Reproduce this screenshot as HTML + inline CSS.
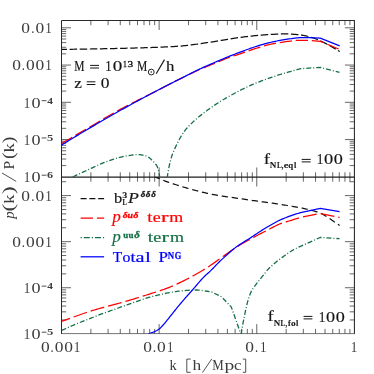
<!DOCTYPE html>
<html><head><meta charset="utf-8"><title>plot</title>
<style>html,body{margin:0;padding:0;background:#fff;}svg{display:block;will-change:transform}text{font-family:"Liberation Serif",serif;}</style>
</head><body>
<svg width="374" height="374" viewBox="0 0 374 374">
<rect width="374" height="374" fill="#fff"/>
<defs><clipPath id="ct"><rect x="61.5" y="20.5" width="292.9" height="156.5"/></clipPath>
<clipPath id="cb"><rect x="61.5" y="177.0" width="292.9" height="156.6"/></clipPath></defs>
<path d="M90.89 20.50V25.20M108.08 20.50V25.20M120.28 20.50V25.20M129.74 20.50V25.20M137.47 20.50V25.20M144.01 20.50V25.20M149.67 20.50V25.20M154.67 20.50V25.20M159.13 20.50V30.00M188.52 20.50V25.20M205.72 20.50V25.20M217.91 20.50V25.20M227.38 20.50V25.20M235.11 20.50V25.20M241.64 20.50V25.20M247.31 20.50V25.20M252.30 20.50V25.20M256.77 20.50V30.00M286.16 20.50V25.20M303.35 20.50V25.20M315.55 20.50V25.20M325.01 20.50V25.20M332.74 20.50V25.20M339.28 20.50V25.20M344.94 20.50V25.20M349.93 20.50V25.20M90.89 177.00V172.30M90.89 177.00V181.70M108.08 177.00V172.30M108.08 177.00V181.70M120.28 177.00V172.30M120.28 177.00V181.70M129.74 177.00V172.30M129.74 177.00V181.70M137.47 177.00V172.30M137.47 177.00V181.70M144.01 177.00V172.30M144.01 177.00V181.70M149.67 177.00V172.30M149.67 177.00V181.70M154.67 177.00V172.30M154.67 177.00V181.70M159.13 177.00V167.50M159.13 177.00V186.50M188.52 177.00V172.30M188.52 177.00V181.70M205.72 177.00V172.30M205.72 177.00V181.70M217.91 177.00V172.30M217.91 177.00V181.70M227.38 177.00V172.30M227.38 177.00V181.70M235.11 177.00V172.30M235.11 177.00V181.70M241.64 177.00V172.30M241.64 177.00V181.70M247.31 177.00V172.30M247.31 177.00V181.70M252.30 177.00V172.30M252.30 177.00V181.70M256.77 177.00V167.50M256.77 177.00V186.50M286.16 177.00V172.30M286.16 177.00V181.70M303.35 177.00V172.30M303.35 177.00V181.70M315.55 177.00V172.30M315.55 177.00V181.70M325.01 177.00V172.30M325.01 177.00V181.70M332.74 177.00V172.30M332.74 177.00V181.70M339.28 177.00V172.30M339.28 177.00V181.70M344.94 177.00V172.30M344.94 177.00V181.70M349.93 177.00V172.30M349.93 177.00V181.70M90.89 333.60V328.90M108.08 333.60V328.90M120.28 333.60V328.90M129.74 333.60V328.90M137.47 333.60V328.90M144.01 333.60V328.90M149.67 333.60V328.90M154.67 333.60V328.90M159.13 333.60V324.10M188.52 333.60V328.90M205.72 333.60V328.90M217.91 333.60V328.90M227.38 333.60V328.90M235.11 333.60V328.90M241.64 333.60V328.90M247.31 333.60V328.90M252.30 333.60V328.90M256.77 333.60V324.10M286.16 333.60V328.90M303.35 333.60V328.90M315.55 333.60V328.90M325.01 333.60V328.90M332.74 333.60V328.90M339.28 333.60V328.90M344.94 333.60V328.90M349.93 333.60V328.90M61.50 165.59H66.20M354.40 165.59H349.70M61.50 159.03H66.20M354.40 159.03H349.70M61.50 154.37H66.20M354.40 154.37H349.70M61.50 150.76H66.20M354.40 150.76H349.70M61.50 147.81H66.20M354.40 147.81H349.70M61.50 145.32H66.20M354.40 145.32H349.70M61.50 143.16H66.20M354.40 143.16H349.70M61.50 141.25H66.20M354.40 141.25H349.70M61.50 139.55H71.00M354.40 139.55H344.90M61.50 128.34H66.20M354.40 128.34H349.70M61.50 121.78H66.20M354.40 121.78H349.70M61.50 117.12H66.20M354.40 117.12H349.70M61.50 113.51H66.20M354.40 113.51H349.70M61.50 110.56H66.20M354.40 110.56H349.70M61.50 108.07H66.20M354.40 108.07H349.70M61.50 105.91H66.20M354.40 105.91H349.70M61.50 104.00H66.20M354.40 104.00H349.70M61.50 102.30H71.00M354.40 102.30H344.90M61.50 91.09H66.20M354.40 91.09H349.70M61.50 84.53H66.20M354.40 84.53H349.70M61.50 79.87H66.20M354.40 79.87H349.70M61.50 76.26H66.20M354.40 76.26H349.70M61.50 73.31H66.20M354.40 73.31H349.70M61.50 70.82H66.20M354.40 70.82H349.70M61.50 68.66H66.20M354.40 68.66H349.70M61.50 66.75H66.20M354.40 66.75H349.70M61.50 65.05H71.00M354.40 65.05H344.90M61.50 53.84H66.20M354.40 53.84H349.70M61.50 47.28H66.20M354.40 47.28H349.70M61.50 42.62H66.20M354.40 42.62H349.70M61.50 39.01H66.20M354.40 39.01H349.70M61.50 36.06H66.20M354.40 36.06H349.70M61.50 33.57H66.20M354.40 33.57H349.70M61.50 31.41H66.20M354.40 31.41H349.70M61.50 29.50H66.20M354.40 29.50H349.70M61.50 27.80H71.00M354.40 27.80H344.90M61.50 319.94H66.20M354.40 319.94H349.70M61.50 311.83H66.20M354.40 311.83H349.70M61.50 306.07H66.20M354.40 306.07H349.70M61.50 301.61H66.20M354.40 301.61H349.70M61.50 297.96H66.20M354.40 297.96H349.70M61.50 294.88H66.20M354.40 294.88H349.70M61.50 292.20H66.20M354.40 292.20H349.70M61.50 289.85H66.20M354.40 289.85H349.70M61.50 287.74H71.00M354.40 287.74H344.90M61.50 273.87H66.20M354.40 273.87H349.70M61.50 265.76H66.20M354.40 265.76H349.70M61.50 260.00H66.20M354.40 260.00H349.70M61.50 255.54H66.20M354.40 255.54H349.70M61.50 251.89H66.20M354.40 251.89H349.70M61.50 248.81H66.20M354.40 248.81H349.70M61.50 246.13H66.20M354.40 246.13H349.70M61.50 243.78H66.20M354.40 243.78H349.70M61.50 241.67H71.00M354.40 241.67H344.90M61.50 227.80H66.20M354.40 227.80H349.70M61.50 219.69H66.20M354.40 219.69H349.70M61.50 213.93H66.20M354.40 213.93H349.70M61.50 209.47H66.20M354.40 209.47H349.70M61.50 205.82H66.20M354.40 205.82H349.70M61.50 202.74H66.20M354.40 202.74H349.70M61.50 200.06H66.20M354.40 200.06H349.70M61.50 197.71H66.20M354.40 197.71H349.70M61.50 195.60H71.00M354.40 195.60H344.90M61.50 181.73H66.20M354.40 181.73H349.70" stroke="#333" stroke-width="0.75" fill="none"/>
<path d="M61.50 333.90V20.50H354.90" fill="none" stroke="#2a2a2a" stroke-width="1"/>
<path d="M354.40 20.50V333.90" fill="none" stroke="#1a1a1a" stroke-width="1.0"/>
<path d="M61.50 333.60H354.40" fill="none" stroke="#2a2a2a" stroke-width="0.65"/>
<path d="M61.50 177.15H354.40" stroke="#1c1c1c" stroke-width="1.25"/>
<g clip-path="url(#ct)" fill="none" stroke-width="1.25">
<path d="M61.50 49.40 L63.01 49.38 L64.53 49.37 L66.04 49.35 L67.56 49.33 L69.07 49.31 L70.59 49.29 L72.10 49.27 L73.62 49.25 L75.13 49.23 L76.65 49.21 L78.16 49.19 L79.68 49.16 L81.19 49.14 L82.71 49.12 L84.22 49.09 L85.74 49.07 L87.25 49.05 L88.77 49.02 L90.28 49.00 L91.80 48.97 L93.31 48.94 L94.82 48.92 L96.34 48.89 L97.85 48.86 L99.37 48.83 L100.88 48.80 L102.40 48.77 L103.91 48.74 L105.43 48.71 L106.94 48.68 L108.46 48.64 L109.97 48.61 L111.49 48.58 L113.00 48.54 L114.52 48.51 L116.03 48.47 L117.54 48.44 L119.06 48.40 L120.57 48.37 L122.09 48.33 L123.60 48.29 L125.12 48.26 L126.63 48.22 L128.15 48.18 L129.66 48.14 L131.17 48.10 L132.69 48.06 L134.20 48.02 L135.72 47.98 L137.23 47.94 L138.75 47.90 L140.26 47.86 L141.78 47.81 L143.29 47.77 L144.80 47.72 L146.32 47.68 L147.83 47.63 L149.35 47.58 L150.86 47.53 L152.37 47.47 L153.89 47.42 L155.40 47.36 L156.92 47.30 L158.43 47.24 L159.94 47.18 L161.46 47.12 L162.97 47.05 L164.49 46.99 L166.00 46.92 L167.51 46.85 L169.03 46.77 L170.54 46.69 L172.05 46.61 L173.57 46.52 L175.08 46.43 L176.59 46.34 L178.10 46.23 L179.61 46.13 L181.12 46.01 L182.63 45.88 L184.13 45.73 L185.64 45.57 L187.15 45.39 L188.65 45.21 L190.16 45.02 L191.66 44.83 L193.16 44.64 L194.66 44.44 L196.17 44.25 L197.67 44.05 L199.17 43.84 L200.67 43.62 L202.17 43.40 L203.67 43.18 L205.16 42.95 L206.66 42.72 L208.16 42.49 L209.65 42.25 L211.15 42.02 L212.65 41.78 L214.14 41.53 L215.63 41.28 L217.13 41.02 L218.62 40.77 L220.12 40.51 L221.61 40.26 L223.10 40.01 L224.60 39.76 L226.09 39.52 L227.59 39.28 L229.09 39.04 L230.58 38.80 L232.08 38.56 L233.58 38.33 L235.07 38.10 L236.57 37.87 L238.07 37.66 L239.57 37.46 L241.07 37.26 L242.58 37.07 L244.08 36.89 L245.58 36.70 L247.09 36.53 L248.59 36.36 L250.10 36.19 L251.61 36.03 L253.11 35.88 L254.62 35.74 L256.13 35.59 L257.64 35.45 L259.15 35.32 L260.66 35.18 L262.17 35.05 L263.68 34.93 L265.19 34.81 L266.70 34.70 L268.21 34.60 L269.72 34.52 L271.23 34.43 L272.75 34.35 L274.26 34.27 L275.78 34.19 L277.29 34.11 L278.80 34.04 L280.32 33.99 L281.83 33.94 L283.35 33.91 L284.86 33.90 L286.37 33.91 L287.89 33.95 L289.40 34.00 L290.92 34.08 L292.44 34.17 L293.95 34.28 L295.46 34.41 L296.97 34.54 L298.48 34.69 L299.98 34.84 L301.48 35.01 L302.98 35.26 L304.47 35.56 L305.95 35.89 L307.41 36.25 L308.87 36.65 L310.33 37.09 L311.77 37.55 L313.21 38.03 L314.64 38.52 L316.07 39.03 L317.49 39.57 L318.90 40.12 L320.30 40.70 L330.00 45.60 L339.70 51.50" stroke="#111" stroke-dasharray="7.5 2.6" stroke-dashoffset="2"/>
<path d="M72.80 176.90 L74.19 176.24 L75.59 175.58 L76.98 174.92 L78.37 174.26 L79.77 173.61 L81.17 172.96 L82.57 172.31 L83.97 171.66 L85.37 171.01 L86.77 170.37 L88.17 169.73 L89.57 169.09 L90.98 168.46 L92.38 167.81 L93.78 167.15 L95.18 166.50 L96.58 165.84 L97.98 165.19 L99.38 164.55 L100.79 163.92 L102.20 163.30 L103.62 162.71 L105.05 162.14 L106.49 161.59 L107.93 161.07 L109.38 160.55 L110.84 160.05 L112.30 159.55 L113.78 159.08 L115.25 158.62 L116.73 158.18 L118.22 157.76 L119.71 157.38 L121.21 157.02 L122.71 156.69 L124.22 156.37 L125.73 156.08 L127.26 155.81 L128.78 155.57 L130.30 155.36 L131.84 155.15 L133.37 154.94 L134.91 154.76 L136.44 154.64 L137.97 154.60 L139.53 154.68 L141.10 154.87 L142.66 155.14 L144.18 155.48 L145.64 155.87 L147.01 156.32 L148.32 157.03 L149.58 157.96 L150.79 159.04 L151.94 160.15 L153.04 161.24 L154.15 162.34 L155.23 163.51 L156.20 164.74 L156.97 166.03 L157.55 167.39 L158.05 168.83 L158.48 170.34 L158.84 171.88 L159.14 173.41 L159.37 174.93 L159.57 176.46 L159.70 178.00" stroke="#156f46" stroke-width="1.3" stroke-dasharray="5 2 1 2"/>
<path d="M167.20 178.00 L167.40 176.49 L167.62 174.98 L167.86 173.47 L168.11 171.97 L168.37 170.47 L168.65 168.97 L168.94 167.48 L169.24 165.99 L169.56 164.50 L169.90 163.01 L170.25 161.53 L170.63 160.05 L171.03 158.58 L171.45 157.12 L171.91 155.67 L172.41 154.24 L172.97 152.83 L173.57 151.42 L174.19 150.03 L174.82 148.63 L175.44 147.24 L176.06 145.86 L176.71 144.47 L177.37 143.10 L178.06 141.74 L178.77 140.40 L179.50 139.06 L180.26 137.73 L181.03 136.41 L181.83 135.10 L182.65 133.81 L183.49 132.54 L184.37 131.31 L185.28 130.11 L186.23 128.94 L187.23 127.79 L188.26 126.67 L189.32 125.56 L190.40 124.47 L191.50 123.40 L192.60 122.35 L193.71 121.31 L194.83 120.29 L195.96 119.28 L197.12 118.28 L198.28 117.30 L199.46 116.32 L200.65 115.37 L201.85 114.42 L203.05 113.48 L204.26 112.56 L205.47 111.64 L206.69 110.74 L207.92 109.84 L209.16 108.94 L210.40 108.06 L211.65 107.19 L212.90 106.32 L214.16 105.46 L215.43 104.61 L216.70 103.77 L217.98 102.94 L219.27 102.12 L220.55 101.31 L221.84 100.51 L223.14 99.72 L224.45 98.94 L225.76 98.17 L227.08 97.41 L228.41 96.66 L229.74 95.92 L231.07 95.19 L232.41 94.46 L233.76 93.73 L235.10 93.02 L236.45 92.31 L237.80 91.60 L239.15 90.90 L240.50 90.20 L241.86 89.51 L243.22 88.82 L244.58 88.14 L245.95 87.47 L247.33 86.82 L248.71 86.18 L250.10 85.56 L251.49 84.95 L252.89 84.35 L254.29 83.77 L255.70 83.19 L257.12 82.63 L258.54 82.07 L259.96 81.52 L261.38 80.98 L262.81 80.44 L264.24 79.91 L265.67 79.39 L267.10 78.87 L268.53 78.36 L269.97 77.86 L271.41 77.36 L272.85 76.87 L274.29 76.38 L275.74 75.90 L277.19 75.43 L278.64 74.96 L280.09 74.50 L281.54 74.05 L283.00 73.61 L284.46 73.18 L285.92 72.76 L287.39 72.34 L288.85 71.92 L290.32 71.51 L291.78 71.10 L293.25 70.69 L294.72 70.28 L296.19 69.88 L297.66 69.48 L299.13 69.09 L300.60 68.70 L320.30 67.30 L339.50 72.30" stroke="#156f46" stroke-width="1.3" stroke-dasharray="5 2 1 2"/>
<path d="M61.50 143.50 L62.80 142.74 L64.11 141.98 L65.41 141.22 L66.72 140.46 L68.02 139.69 L69.33 138.93 L70.63 138.17 L71.94 137.41 L73.24 136.65 L74.55 135.89 L75.85 135.13 L77.16 134.37 L78.46 133.61 L79.77 132.85 L81.07 132.09 L82.38 131.33 L83.68 130.57 L84.99 129.81 L86.29 129.05 L87.60 128.29 L88.91 127.54 L90.21 126.78 L91.52 126.02 L92.82 125.25 L94.12 124.49 L95.42 123.72 L96.73 122.95 L98.03 122.18 L99.33 121.41 L100.63 120.65 L101.93 119.88 L103.23 119.11 L104.53 118.34 L105.83 117.57 L107.13 116.81 L108.44 116.05 L109.74 115.29 L111.05 114.53 L112.36 113.78 L113.67 113.03 L114.99 112.29 L116.30 111.55 L117.62 110.81 L118.94 110.08 L120.26 109.36 L121.59 108.64 L122.92 107.93 L124.26 107.22 L125.60 106.52 L126.94 105.82 L128.28 105.13 L129.62 104.44 L130.97 103.75 L132.32 103.07 L133.66 102.38 L135.01 101.70 L136.35 101.01 L137.70 100.33 L139.05 99.66 L140.40 98.98 L141.76 98.31 L143.11 97.64 L144.46 96.97 L145.81 96.29 L147.17 95.62 L148.52 94.95 L149.87 94.27 L151.21 93.59 L152.56 92.90 L153.91 92.22 L155.25 91.53 L156.60 90.84 L157.94 90.15 L159.28 89.45 L160.62 88.76 L161.96 88.07 L163.31 87.37 L164.65 86.68 L165.99 85.99 L167.33 85.30 L168.68 84.60 L170.02 83.92 L171.37 83.23 L172.71 82.54 L174.06 81.86 L175.41 81.18 L176.76 80.51 L178.11 79.83 L179.46 79.16 L180.82 78.50 L182.17 77.83 L183.53 77.17 L184.89 76.50 L186.25 75.84 L187.60 75.18 L188.96 74.52 L190.33 73.87 L191.69 73.22 L193.06 72.57 L194.42 71.93 L195.79 71.30 L197.17 70.67 L198.54 70.05 L199.92 69.43 L201.31 68.83 L202.69 68.24 L204.08 67.65 L205.48 67.07 L206.88 66.50 L208.28 65.93 L209.68 65.36 L211.08 64.79 L212.48 64.23 L213.88 63.66 L215.28 63.09 L216.67 62.51 L218.06 61.92 L219.46 61.33 L220.85 60.74 L222.24 60.15 L223.64 59.57 L225.03 59.00 L226.44 58.44 L227.84 57.90 L229.26 57.37 L230.68 56.86 L232.11 56.38 L233.54 55.92 L234.99 55.47 L236.43 55.03 L237.88 54.58 L239.32 54.12 L240.75 53.65 L242.18 53.16 L243.60 52.66 L245.03 52.15 L246.45 51.64 L247.87 51.13 L249.30 50.62 L250.72 50.12 L252.15 49.63 L253.58 49.16 L255.02 48.69 L256.46 48.24 L257.90 47.79 L259.34 47.33 L260.79 46.88 L262.24 46.44 L263.69 46.02 L265.14 45.61 L266.60 45.21 L268.06 44.85 L269.53 44.50 L271.00 44.19 L272.48 43.88 L273.96 43.58 L275.44 43.30 L276.93 43.03 L278.42 42.77 L279.92 42.52 L281.41 42.29 L282.91 42.08 L284.40 41.88 L285.90 41.69 L287.40 41.49 L288.90 41.29 L290.40 41.10 L291.90 40.91 L293.41 40.74 L294.91 40.59 L296.42 40.46 L297.92 40.37 L299.43 40.31 L300.94 40.30 L302.45 40.30 L303.95 40.30 L305.46 40.31 L306.98 40.32 L308.49 40.33 L310.00 40.35 L320.30 41.30 L339.70 49.40" stroke="#ff0000" stroke-dasharray="12.3 3.8" stroke-dashoffset="0"/>
<path d="M61.50 145.10 L62.78 144.30 L64.07 143.51 L65.36 142.71 L66.64 141.92 L67.93 141.13 L69.22 140.34 L70.51 139.55 L71.80 138.76 L73.09 137.98 L74.38 137.19 L75.68 136.41 L76.97 135.63 L78.26 134.85 L79.56 134.07 L80.85 133.30 L82.15 132.52 L83.45 131.75 L84.75 130.97 L86.05 130.20 L87.35 129.43 L88.65 128.66 L89.95 127.90 L91.25 127.13 L92.55 126.36 L93.86 125.60 L95.16 124.84 L96.47 124.08 L97.77 123.32 L99.08 122.56 L100.38 121.80 L101.69 121.04 L103.00 120.29 L104.31 119.53 L105.62 118.78 L106.93 118.03 L108.24 117.28 L109.55 116.53 L110.86 115.78 L112.17 115.03 L113.49 114.29 L114.80 113.54 L116.11 112.80 L117.43 112.05 L118.74 111.31 L120.06 110.57 L121.37 109.83 L122.69 109.09 L124.01 108.35 L125.33 107.62 L126.65 106.89 L127.97 106.16 L129.30 105.43 L130.62 104.70 L131.95 103.98 L133.27 103.26 L134.60 102.53 L135.93 101.81 L137.26 101.10 L138.59 100.38 L139.92 99.66 L141.25 98.95 L142.59 98.24 L143.92 97.53 L145.25 96.82 L146.59 96.11 L147.92 95.40 L149.26 94.69 L150.59 93.99 L151.93 93.28 L153.27 92.58 L154.61 91.88 L155.94 91.19 L157.29 90.49 L158.63 89.79 L159.97 89.10 L161.31 88.41 L162.66 87.72 L164.00 87.03 L165.35 86.34 L166.69 85.65 L168.04 84.97 L169.38 84.28 L170.73 83.60 L172.08 82.91 L173.42 82.23 L174.77 81.55 L176.12 80.86 L177.47 80.18 L178.82 79.50 L180.16 78.82 L181.51 78.13 L182.86 77.45 L184.20 76.76 L185.55 76.07 L186.89 75.38 L188.24 74.70 L189.59 74.01 L190.93 73.33 L192.28 72.65 L193.64 71.97 L194.99 71.31 L196.35 70.64 L197.71 69.99 L199.07 69.34 L200.44 68.70 L201.81 68.06 L203.18 67.44 L204.56 66.82 L205.94 66.21 L207.33 65.61 L208.71 65.00 L210.10 64.40 L211.49 63.81 L212.88 63.21 L214.27 62.62 L215.65 62.02 L217.04 61.42 L218.43 60.83 L219.82 60.23 L221.21 59.64 L222.60 59.05 L223.99 58.46 L225.39 57.88 L226.78 57.30 L228.18 56.73 L229.58 56.17 L230.99 55.61 L232.39 55.06 L233.80 54.52 L235.22 53.98 L236.63 53.45 L238.05 52.92 L239.46 52.40 L240.88 51.87 L242.29 51.34 L243.71 50.81 L245.13 50.28 L246.54 49.76 L247.96 49.23 L249.38 48.72 L250.81 48.21 L252.23 47.72 L253.66 47.24 L255.10 46.77 L256.54 46.31 L257.98 45.86 L259.42 45.41 L260.87 44.97 L262.32 44.54 L263.77 44.12 L265.23 43.71 L266.69 43.32 L268.15 42.94 L269.62 42.59 L271.09 42.25 L272.56 41.92 L274.03 41.60 L275.51 41.29 L277.00 41.00 L278.48 40.71 L279.97 40.43 L281.46 40.17 L282.95 39.92 L284.44 39.68 L285.93 39.46 L287.43 39.22 L288.92 38.98 L290.42 38.75 L291.92 38.52 L293.42 38.31 L294.92 38.12 L296.42 37.95 L297.93 37.82 L299.43 37.74 L300.94 37.69 L302.44 37.67 L303.95 37.65 L305.46 37.63 L306.97 37.61 L308.49 37.60 L310.00 37.60 L320.30 38.20 L339.70 45.90" stroke="#0000ff"/>
</g>
<g clip-path="url(#cb)" fill="none" stroke-width="1.25">
<path d="M154.00 176.30 L155.38 176.94 L156.78 177.57 L158.17 178.18 L159.57 178.79 L160.98 179.39 L162.38 179.97 L163.80 180.54 L165.22 181.08 L166.65 181.61 L168.09 182.12 L169.53 182.62 L170.97 183.11 L172.42 183.59 L173.88 184.06 L175.33 184.52 L176.78 184.98 L178.24 185.44 L179.69 185.89 L181.15 186.34 L182.61 186.79 L184.07 187.23 L185.53 187.66 L187.00 188.09 L188.46 188.52 L189.93 188.93 L191.40 189.34 L192.87 189.74 L194.35 190.13 L195.82 190.51 L197.30 190.89 L198.78 191.27 L200.26 191.64 L201.74 192.01 L203.22 192.37 L204.70 192.73 L206.19 193.08 L207.68 193.42 L209.17 193.76 L210.66 194.08 L212.15 194.39 L213.65 194.69 L215.14 194.97 L216.64 195.24 L218.14 195.50 L219.64 195.74 L221.15 195.97 L222.66 196.19 L224.17 196.41 L225.68 196.62 L227.19 196.82 L228.71 197.03 L230.22 197.23 L231.73 197.44 L233.24 197.65 L234.75 197.86 L236.26 198.08 L237.77 198.31 L239.28 198.53 L240.79 198.75 L242.30 198.97 L243.81 199.20 L245.31 199.42 L246.82 199.64 L248.33 199.86 L249.84 200.08 L251.35 200.29 L252.86 200.51 L254.37 200.72 L255.88 200.93 L257.39 201.14 L258.90 201.35 L260.41 201.56 L261.92 201.77 L263.43 201.98 L264.94 202.19 L266.45 202.40 L267.97 202.61 L269.48 202.82 L270.99 203.02 L272.50 203.23 L274.01 203.44 L275.52 203.65 L277.03 203.87 L278.54 204.08 L280.05 204.31 L281.56 204.54 L283.06 204.77 L284.57 205.01 L286.07 205.25 L287.58 205.50 L289.08 205.75 L290.59 206.00 L292.09 206.25 L293.60 206.51 L295.10 206.77 L296.60 207.04 L298.10 207.31 L299.60 207.60 L301.09 207.90 L302.58 208.22 L304.07 208.56 L305.56 208.90 L307.04 209.26 L308.52 209.63 L310.00 210.00 L311.48 210.38 L312.95 210.76 L314.43 211.15 L315.90 211.55 L317.37 211.96 L318.83 212.38 L320.30 212.80 L330.00 218.80 L339.60 225.50" stroke="#111" stroke-dasharray="6.3 3.8"/>
<path d="M61.50 330.50 L62.89 329.86 L64.28 329.22 L65.67 328.58 L67.06 327.96 L68.46 327.33 L69.86 326.71 L71.26 326.10 L72.66 325.50 L74.07 324.90 L75.47 324.30 L76.88 323.71 L78.30 323.13 L79.71 322.56 L81.13 321.99 L82.55 321.43 L83.98 320.86 L85.40 320.30 L86.82 319.75 L88.25 319.19 L89.67 318.63 L91.09 318.07 L92.51 317.51 L93.94 316.95 L95.36 316.39 L96.78 315.83 L98.21 315.28 L99.63 314.73 L101.06 314.18 L102.49 313.64 L103.92 313.10 L105.35 312.57 L106.79 312.05 L108.23 311.53 L109.67 311.02 L111.11 310.51 L112.55 310.01 L114.00 309.50 L115.44 309.00 L116.89 308.50 L118.33 307.99 L119.77 307.48 L121.21 306.97 L122.65 306.45 L124.08 305.92 L125.52 305.40 L126.95 304.87 L128.39 304.35 L129.83 303.83 L131.27 303.31 L132.71 302.80 L134.15 302.29 L135.59 301.80 L137.04 301.30 L138.49 300.80 L139.93 300.30 L141.38 299.80 L142.83 299.31 L144.28 298.84 L145.74 298.37 L147.20 297.92 L148.66 297.48 L150.13 297.06 L151.60 296.66 L153.08 296.27 L154.56 295.88 L156.04 295.51 L157.53 295.14 L159.02 294.79 L160.51 294.45 L162.00 294.12 L163.50 293.80 L165.00 293.50 L166.49 293.20 L168.00 292.91 L169.50 292.61 L171.00 292.33 L172.51 292.05 L174.02 291.79 L175.53 291.55 L177.04 291.33 L178.56 291.15 L180.08 290.99 L181.59 290.85 L183.12 290.72 L184.64 290.58 L186.17 290.46 L187.70 290.34 L189.22 290.24 L190.75 290.15 L192.28 290.08 L193.81 290.03 L195.33 290.00 L196.86 290.01 L198.38 290.10 L199.90 290.24 L201.43 290.42 L202.95 290.62 L204.46 290.83 L205.98 291.03 L207.49 291.26 L208.99 291.52 L210.50 291.80 L212.00 292.10 L221.50 296.80 L231.30 307.00 L241.00 334.50" stroke="#156f46" stroke-width="1.3" stroke-dasharray="5 2 1 2"/>
<path d="M241.00 334.50 L241.25 332.98 L241.51 331.47 L241.78 329.95 L242.05 328.44 L242.32 326.93 L242.60 325.42 L242.88 323.91 L243.17 322.40 L243.47 320.89 L243.76 319.38 L244.06 317.87 L244.37 316.37 L244.67 314.86 L244.97 313.35 L245.28 311.84 L245.59 310.33 L245.91 308.83 L246.25 307.33 L246.60 305.83 L246.96 304.34 L247.35 302.86 L247.76 301.38 L248.19 299.90 L248.64 298.41 L249.12 296.94 L249.63 295.47 L250.18 294.03 L250.76 292.62 L251.38 291.24 L252.08 289.91 L252.88 288.62 L253.76 287.35 L254.69 286.11 L255.65 284.88 L256.60 283.66 L257.53 282.43 L258.47 281.22 L259.43 280.01 L260.40 278.82 L261.37 277.63 L262.34 276.44 L263.31 275.24 L264.26 274.03 L265.19 272.80 L266.12 271.58 L267.09 270.39 L268.11 269.26 L269.19 268.16 L270.30 267.10 L271.44 266.06 L272.60 265.04 L273.77 264.04 L274.94 263.05 L276.12 262.07 L277.32 261.11 L278.53 260.16 L279.75 259.22 L280.98 258.29 L282.21 257.38 L283.46 256.47 L284.70 255.57 L285.95 254.68 L287.20 253.78 L288.46 252.90 L289.74 252.04 L291.04 251.22 L292.35 250.44 L293.69 249.69 L295.04 248.96 L296.40 248.25 L297.78 247.57 L299.18 246.92 L300.60 246.30 L320.30 237.40 L339.60 238.70" stroke="#156f46" stroke-width="1.3" stroke-dasharray="5 2 1 2"/>
<path d="M61.50 321.40 L62.92 320.88 L64.33 320.35 L65.75 319.84 L67.17 319.32 L68.58 318.80 L70.00 318.29 L71.42 317.78 L72.84 317.27 L74.26 316.76 L75.69 316.26 L77.11 315.75 L78.53 315.24 L79.95 314.73 L81.37 314.22 L82.79 313.72 L84.22 313.22 L85.65 312.73 L87.07 312.25 L88.51 311.78 L89.94 311.32 L91.38 310.87 L92.83 310.43 L94.27 310.01 L95.72 309.59 L97.17 309.17 L98.63 308.76 L100.08 308.36 L101.54 307.96 L102.99 307.55 L104.45 307.15 L105.90 306.75 L107.36 306.36 L108.81 305.97 L110.27 305.59 L111.73 305.21 L113.19 304.82 L114.65 304.44 L116.11 304.06 L117.57 303.67 L119.03 303.27 L120.48 302.87 L121.93 302.46 L123.38 302.04 L124.83 301.62 L126.28 301.20 L127.73 300.78 L129.18 300.35 L130.62 299.92 L132.07 299.48 L133.51 299.05 L134.96 298.61 L136.40 298.17 L137.84 297.73 L139.28 297.29 L140.72 296.84 L142.17 296.39 L143.60 295.93 L145.04 295.48 L146.48 295.02 L147.92 294.56 L149.36 294.11 L150.79 293.65 L152.23 293.19 L153.68 292.74 L155.12 292.29 L156.56 291.84 L158.00 291.38 L159.44 290.92 L160.87 290.45 L162.30 289.96 L163.72 289.47 L165.13 288.95 L166.54 288.42 L167.95 287.87 L169.35 287.31 L170.74 286.73 L172.13 286.14 L173.52 285.54 L174.90 284.93 L176.28 284.31 L177.66 283.69 L179.03 283.06 L180.39 282.42 L181.75 281.77 L183.10 281.11 L184.46 280.43 L185.80 279.75 L187.14 279.06 L188.48 278.36 L189.82 277.65 L191.15 276.93 L192.47 276.20 L193.79 275.47 L195.11 274.74 L196.42 274.00 L197.73 273.25 L199.03 272.49 L200.34 271.73 L201.63 270.95 L202.93 270.17 L204.21 269.38 L205.50 268.59 L206.77 267.78 L208.05 266.97 L209.31 266.15 L210.57 265.32 L211.82 264.48 L213.06 263.62 L214.29 262.75 L215.51 261.87 L216.73 260.98 L217.95 260.08 L219.17 259.19 L220.38 258.30 L221.60 257.41 L222.83 256.53 L224.06 255.65 L225.30 254.79 L226.54 253.93 L227.78 253.08 L229.03 252.22 L230.27 251.36 L231.52 250.51 L232.77 249.66 L234.02 248.82 L235.28 247.99 L236.55 247.17 L237.82 246.36 L239.09 245.56 L240.38 244.77 L241.67 244.00 L242.98 243.24 L244.29 242.49 L245.61 241.76 L246.93 241.03 L248.25 240.30 L249.58 239.58 L250.90 238.85 L252.23 238.13 L253.55 237.41 L254.88 236.69 L256.21 235.98 L257.54 235.27 L258.87 234.56 L260.21 233.86 L261.55 233.16 L262.88 232.46 L264.22 231.77 L265.57 231.08 L266.91 230.40 L268.26 229.71 L269.60 229.01 L270.94 228.30 L272.28 227.59 L273.62 226.89 L274.97 226.21 L276.33 225.54 L277.69 224.89 L279.06 224.28 L280.45 223.70 L281.85 223.17 L283.27 222.69 L284.71 222.24 L286.16 221.82 L287.62 221.40 L289.07 220.98 L290.52 220.54 L291.96 220.10 L293.40 219.65 L294.84 219.20 L296.28 218.75 L297.72 218.30 L299.16 217.85 L300.60 217.40 L320.30 213.50 L339.60 217.50" stroke="#ff0000" stroke-dasharray="14 4" stroke-dashoffset="5"/>
<path d="M148.10 333.60 L149.68 333.30 L151.20 332.90 L152.68 332.40 L154.09 331.83 L155.45 331.20 L156.76 330.51 L158.02 329.79 L159.22 329.01 L160.35 328.03 L161.42 326.93 L162.46 325.77 L163.48 324.63 L164.48 323.50 L165.45 322.35 L166.40 321.17 L167.34 319.98 L168.27 318.79 L169.20 317.59 L170.15 316.41 L171.10 315.24 L172.04 314.06 L172.99 312.87 L173.93 311.69 L174.87 310.51 L175.81 309.33 L176.76 308.15 L177.71 306.97 L178.67 305.80 L179.63 304.64 L180.61 303.48 L181.58 302.33 L182.57 301.18 L183.56 300.04 L184.55 298.90 L185.55 297.76 L186.55 296.63 L187.55 295.50 L188.55 294.37 L189.56 293.23 L190.56 292.10 L191.57 290.97 L192.57 289.84 L193.57 288.71 L194.56 287.56 L195.55 286.42 L196.53 285.26 L197.51 284.11 L198.49 282.95 L199.48 281.80 L200.47 280.66 L201.47 279.53 L202.49 278.41 L203.52 277.31 L204.57 276.23 L205.65 275.18 L206.77 274.16 L207.91 273.17 L209.05 272.17 L210.16 271.15 L211.25 270.10 L212.32 269.03 L213.38 267.95 L214.43 266.86 L215.48 265.77 L216.53 264.68 L217.58 263.59 L218.64 262.52 L219.71 261.45 L220.80 260.40 L221.90 259.37 L223.02 258.35 L224.14 257.34 L225.27 256.33 L226.40 255.33 L227.54 254.32 L228.66 253.31 L229.79 252.30 L230.92 251.29 L232.06 250.29 L233.22 249.32 L234.39 248.37 L235.58 247.46 L236.80 246.58 L238.04 245.72 L239.29 244.88 L240.55 244.05 L241.83 243.23 L243.11 242.43 L244.40 241.63 L245.69 240.83 L246.98 240.03 L248.27 239.23 L249.55 238.43 L250.83 237.61 L252.10 236.79 L253.36 235.95 L254.62 235.12 L255.88 234.28 L257.14 233.44 L258.40 232.60 L259.66 231.77 L260.93 230.94 L262.20 230.12 L263.47 229.31 L264.76 228.51 L266.05 227.72 L267.34 226.96 L268.65 226.19 L269.96 225.43 L271.27 224.67 L272.59 223.92 L273.92 223.18 L275.25 222.45 L276.59 221.74 L277.94 221.06 L279.29 220.40 L280.66 219.77 L282.03 219.17 L283.42 218.59 L284.81 218.02 L286.21 217.46 L287.61 216.91 L289.02 216.38 L290.44 215.86 L291.87 215.35 L293.31 214.86 L294.75 214.39 L296.20 213.94 L297.66 213.51 L299.13 213.09 L300.60 212.70 L320.30 208.30 L339.60 211.60" stroke="#0000ff"/>
</g>
<g fill="none" stroke-width="1.25">
<path d="M80.6 198.6H104.1" stroke="#111" stroke-dasharray="6 2.8"/>
<path d="M80.6 218.1H104.1" stroke="#ff0000" stroke-dasharray="12.4 4"/>
<path d="M80.6 237.7H104.1" stroke="#156f46" stroke-dasharray="1.2 2 6 2" stroke-dashoffset="0"/>
<path d="M80.6 256.8H104.1" stroke="#0000ff"/>
</g>
<g opacity="0.999">
<text transform="matrix(1.1713 0 0 1.0000 21.34 32.90)" font-size="14.90" fill="#3c3c3c">0</text>
<text transform="matrix(0.8531 0 0 1.0000 31.16 32.90)" font-size="14.90" fill="#3c3c3c">.</text>
<text transform="matrix(1.1713 0 0 1.0000 35.54 32.90)" font-size="14.90" fill="#3c3c3c">0</text>
<text transform="matrix(0.8771 0 0 1.0000 45.15 32.90)" font-size="14.90" fill="#3c3c3c">1</text>
<text transform="matrix(1.1713 0 0 1.0000 21.34 200.70)" font-size="14.90" fill="#3c3c3c">0</text>
<text transform="matrix(0.8531 0 0 1.0000 31.16 200.70)" font-size="14.90" fill="#3c3c3c">.</text>
<text transform="matrix(1.1713 0 0 1.0000 35.54 200.70)" font-size="14.90" fill="#3c3c3c">0</text>
<text transform="matrix(0.8771 0 0 1.0000 45.15 200.70)" font-size="14.90" fill="#3c3c3c">1</text>
<text transform="matrix(1.1713 0 0 1.0000 12.34 70.15)" font-size="14.90" fill="#3c3c3c">0</text>
<text transform="matrix(0.8531 0 0 1.0000 21.86 70.15)" font-size="14.90" fill="#3c3c3c">.</text>
<text transform="matrix(1.1713 0 0 1.0000 25.94 70.15)" font-size="14.90" fill="#3c3c3c">0</text>
<text transform="matrix(1.1713 0 0 1.0000 35.54 70.15)" font-size="14.90" fill="#3c3c3c">0</text>
<text transform="matrix(0.8771 0 0 1.0000 45.15 70.15)" font-size="14.90" fill="#3c3c3c">1</text>
<text transform="matrix(1.1713 0 0 1.0000 12.34 246.77)" font-size="14.90" fill="#3c3c3c">0</text>
<text transform="matrix(0.8531 0 0 1.0000 21.86 246.77)" font-size="14.90" fill="#3c3c3c">.</text>
<text transform="matrix(1.1713 0 0 1.0000 25.94 246.77)" font-size="14.90" fill="#3c3c3c">0</text>
<text transform="matrix(1.1713 0 0 1.0000 35.54 246.77)" font-size="14.90" fill="#3c3c3c">0</text>
<text transform="matrix(0.8771 0 0 1.0000 45.15 246.77)" font-size="14.90" fill="#3c3c3c">1</text>
<text transform="matrix(0.8771 0 0 1.0000 23.65 107.80)" font-size="14.90" fill="#3c3c3c">1</text>
<text transform="matrix(1.2188 0 0 1.0000 31.51 107.80)" font-size="14.90" fill="#3c3c3c">0</text>
<path d="M41.7 100.70H46.5" stroke="#3c3c3c" stroke-width="0.90" fill="none"/>
<text transform="matrix(1.3352 0 0 1.0000 47.24 103.60)" font-size="8.50" fill="#3c3c3c" style="font-weight:bold">4</text>
<text transform="matrix(0.8771 0 0 1.0000 23.65 145.05)" font-size="14.90" fill="#3c3c3c">1</text>
<text transform="matrix(1.2188 0 0 1.0000 31.51 145.05)" font-size="14.90" fill="#3c3c3c">0</text>
<path d="M41.7 137.95H46.5" stroke="#3c3c3c" stroke-width="0.90" fill="none"/>
<text transform="matrix(1.4741 0 0 1.0000 46.90 140.85)" font-size="8.50" fill="#3c3c3c" style="font-weight:bold">5</text>
<text transform="matrix(0.8771 0 0 1.0000 23.65 182.30)" font-size="14.90" fill="#3c3c3c">1</text>
<text transform="matrix(1.2188 0 0 1.0000 31.51 182.30)" font-size="14.90" fill="#3c3c3c">0</text>
<path d="M41.7 175.20H46.5" stroke="#3c3c3c" stroke-width="0.90" fill="none"/>
<text transform="matrix(1.4268 0 0 1.0000 46.99 178.10)" font-size="8.50" fill="#3c3c3c" style="font-weight:bold">6</text>
<text transform="matrix(0.8771 0 0 1.0000 23.65 293.24)" font-size="14.90" fill="#3c3c3c">1</text>
<text transform="matrix(1.2188 0 0 1.0000 31.51 293.24)" font-size="14.90" fill="#3c3c3c">0</text>
<path d="M41.7 286.14H46.5" stroke="#3c3c3c" stroke-width="0.90" fill="none"/>
<text transform="matrix(1.3352 0 0 1.0000 47.24 289.04)" font-size="8.50" fill="#3c3c3c" style="font-weight:bold">4</text>
<text transform="matrix(0.8771 0 0 1.0000 23.65 339.31)" font-size="14.90" fill="#3c3c3c">1</text>
<text transform="matrix(1.2188 0 0 1.0000 31.51 339.31)" font-size="14.90" fill="#3c3c3c">0</text>
<path d="M41.7 332.21H46.5" stroke="#3c3c3c" stroke-width="0.90" fill="none"/>
<text transform="matrix(1.4741 0 0 1.0000 46.90 335.11)" font-size="8.50" fill="#3c3c3c" style="font-weight:bold">5</text>
<text transform="matrix(1.1713 0 0 1.0000 40.94 352.00)" font-size="14.90" fill="#3c3c3c">0</text>
<text transform="matrix(0.8531 0 0 1.0000 50.56 352.00)" font-size="14.90" fill="#3c3c3c">.</text>
<text transform="matrix(1.1713 0 0 1.0000 54.64 352.00)" font-size="14.90" fill="#3c3c3c">0</text>
<text transform="matrix(1.1713 0 0 1.0000 64.34 352.00)" font-size="14.90" fill="#3c3c3c">0</text>
<text transform="matrix(0.8771 0 0 1.0000 73.85 352.00)" font-size="14.90" fill="#3c3c3c">1</text>
<text transform="matrix(1.1713 0 0 1.0000 143.34 352.00)" font-size="14.90" fill="#3c3c3c">0</text>
<text transform="matrix(0.9100 0 0 1.0000 152.71 352.00)" font-size="14.90" fill="#3c3c3c">.</text>
<text transform="matrix(1.1713 0 0 1.0000 157.04 352.00)" font-size="14.90" fill="#3c3c3c">0</text>
<text transform="matrix(0.8580 0 0 1.0000 166.88 352.00)" font-size="14.90" fill="#3c3c3c">1</text>
<text transform="matrix(1.1713 0 0 1.0000 245.34 352.00)" font-size="14.90" fill="#3c3c3c">0</text>
<text transform="matrix(0.8531 0 0 1.0000 254.96 352.00)" font-size="14.90" fill="#3c3c3c">.</text>
<text transform="matrix(0.8771 0 0 1.0000 259.95 352.00)" font-size="14.90" fill="#3c3c3c">1</text>
<text transform="matrix(0.8771 0 0 1.0000 350.85 352.00)" font-size="14.90" fill="#3c3c3c">1</text>
<text transform="matrix(0.9833 0 0 1.0000 169.42 369.80)" font-size="14.80" fill="#3c3c3c">k</text>
<text transform="matrix(1.1757 0 0 1.0000 192.53 369.80)" font-size="14.80" fill="#3c3c3c">h</text>
<text transform="matrix(0.8700 0 0 1.0000 212.33 369.80)" font-size="14.80" fill="#3c3c3c">M</text>
<text transform="matrix(1.3210 0 0 1.0000 224.39 369.80)" font-size="14.80" fill="#3c3c3c">p</text>
<text transform="matrix(1.1351 0 0 1.0000 234.06 369.80)" font-size="14.80" fill="#3c3c3c">c</text>
<path d="M190.7 359.1H186.8V372.3H190.7" stroke="#3c3c3c" stroke-width="0.90" fill="none"/>
<path d="M242.8 359.1H245.7V372.3H242.8" stroke="#3c3c3c" stroke-width="0.90" fill="none"/>
<path d="M202.5 372.5L211.8 358.9" stroke="#3c3c3c" stroke-width="0.90" fill="none"/>
<text transform="translate(13.7 220) rotate(-90) matrix(0.9637 0 0 1.0000 1.17 0.00)" font-size="15.30" fill="#3c3c3c" style="font-style:italic">p</text>
<text transform="translate(13.7 220) rotate(-90) matrix(1.5005 0 0 1.1113 8.59 0.00)" font-size="15.30" fill="#3c3c3c">(</text>
<text transform="translate(13.7 220) rotate(-90) matrix(1.5005 0 0 1.1113 26.07 0.00)" font-size="15.30" fill="#3c3c3c">)</text>
<text transform="translate(13.7 220) rotate(-90) matrix(1.2970 0 0 1.1113 61.03 0.00)" font-size="15.30" fill="#3c3c3c">(</text>
<text transform="translate(13.7 220) rotate(-90) matrix(1.3224 0 0 1.1113 76.75 0.00)" font-size="15.30" fill="#3c3c3c">)</text>
<text transform="translate(13.7 220) rotate(-90) matrix(1.2094 0 0 1.0000 16.35 0.00)" font-size="15.30" fill="#3c3c3c">k</text>
<text transform="translate(13.7 220) rotate(-90) matrix(1.0066 0 0 1.0000 50.55 0.00)" font-size="15.30" fill="#3c3c3c">P</text>
<text transform="translate(13.7 220) rotate(-90) matrix(1.2229 0 0 1.0000 67.44 0.00)" font-size="15.30" fill="#3c3c3c">k</text>
<path d="M38.6 2.5L47.0 -11.7" stroke="#3c3c3c" stroke-width="0.90" fill="none" transform="translate(13.7 220) rotate(-90)"/>
<text transform="matrix(0.7967 0 0 1.0000 74.36 71.10)" font-size="14.50" fill="#151515" stroke="#151515" stroke-width="0.16">M</text>
<text transform="matrix(0.8817 0 0 1.0000 105.28 71.10)" font-size="14.50" fill="#151515" stroke="#151515" stroke-width="0.16">1</text>
<text transform="matrix(1.3175 0 0 1.0000 112.77 71.10)" font-size="14.50" fill="#151515" stroke="#151515" stroke-width="0.16">0</text>
<text transform="matrix(0.7967 0 0 1.0000 137.06 71.10)" font-size="14.50" fill="#151515" stroke="#151515" stroke-width="0.16">M</text>
<text transform="matrix(1.1567 0 0 1.0000 165.93 71.10)" font-size="14.50" fill="#151515" stroke="#151515" stroke-width="0.16">h</text>
<path d="M90.1 65.4H99.0M90.1 68.0H99.0" stroke="#151515" stroke-width="1.00" fill="none"/>
<text transform="matrix(0.8817 0 0 1.0000 123.12 66.90)" font-size="8.70" fill="#151515" stroke="#151515" stroke-width="0.30">1</text>
<text transform="matrix(1.3081 0 0 1.0000 127.55 66.90)" font-size="8.70" fill="#151515" stroke="#151515" stroke-width="0.30">3</text>
<circle cx="151.25" cy="72.05" r="2.9" fill="none" stroke="#151515" stroke-width="0.95"/><circle cx="151.25" cy="72.05" r="0.75" fill="#151515"/>
<path d="M156.2 73.8L164.5 59.6" stroke="#151515" stroke-width="1.10" fill="none"/>
<text transform="matrix(1.1878 0 0 1.0000 74.23 87.50)" font-size="14.50" fill="#151515" stroke="#151515" stroke-width="0.16">z</text>
<text transform="matrix(1.2036 0 0 1.0000 100.74 87.50)" font-size="14.50" fill="#151515" stroke="#151515" stroke-width="0.16">0</text>
<path d="M86.7 81.8H95.4M86.7 84.5H95.4" stroke="#151515" stroke-width="1.00" fill="none"/>
<text transform="matrix(1.2667 0 0 1.0000 263.71 164.10)" font-size="14.90" fill="#151515" stroke="#151515" stroke-width="0.16">f</text>
<text transform="matrix(1.0145 0 0 1.0000 269.83 168.00)" font-size="9.00" fill="#151515" style="font-weight:bold" stroke="#151515" stroke-width="0.10">N</text>
<text transform="matrix(0.7858 0 0 1.0000 276.98 168.00)" font-size="9.00" fill="#151515" style="font-weight:bold" stroke="#151515" stroke-width="0.10">L</text>
<text transform="matrix(0.8934 0 0 1.0000 281.50 168.00)" font-size="9.00" fill="#151515" style="font-weight:bold" stroke="#151515" stroke-width="0.10">,</text>
<text transform="matrix(1.1574 0 0 1.0000 283.65 168.00)" font-size="9.00" fill="#151515" style="font-weight:bold" stroke="#151515" stroke-width="0.10">e</text>
<text transform="matrix(0.9881 0 0 1.0000 288.34 168.00)" font-size="9.00" fill="#151515" style="font-weight:bold" stroke="#151515" stroke-width="0.10">q</text>
<text transform="matrix(0.9221 0 0 1.0000 293.93 168.00)" font-size="9.00" fill="#151515" style="font-weight:bold" stroke="#151515" stroke-width="0.10">l</text>
<path d="M301.7 159.4H310.7M301.7 161.9H310.7" stroke="#151515" stroke-width="1.00" fill="none"/>
<text transform="matrix(0.9208 0 0 1.0000 316.82 164.30)" font-size="14.50" fill="#151515" stroke="#151515" stroke-width="0.16">1</text>
<text transform="matrix(1.2687 0 0 1.0000 324.00 164.30)" font-size="14.50" fill="#151515" stroke="#151515" stroke-width="0.16">0</text>
<text transform="matrix(1.2524 0 0 1.0000 333.71 164.30)" font-size="14.50" fill="#151515" stroke="#151515" stroke-width="0.16">0</text>
<text transform="matrix(1.2445 0 0 1.0000 267.43 321.40)" font-size="14.90" fill="#151515" stroke="#151515" stroke-width="0.16">f</text>
<text transform="matrix(0.9984 0 0 1.0000 273.63 325.70)" font-size="9.00" fill="#151515" style="font-weight:bold" stroke="#151515" stroke-width="0.10">N</text>
<text transform="matrix(0.7858 0 0 1.0000 280.58 325.70)" font-size="9.00" fill="#151515" style="font-weight:bold" stroke="#151515" stroke-width="0.10">L</text>
<text transform="matrix(0.8934 0 0 1.0000 285.30 325.70)" font-size="9.00" fill="#151515" style="font-weight:bold" stroke="#151515" stroke-width="0.10">,</text>
<text transform="matrix(0.8929 0 0 1.0000 287.94 325.70)" font-size="9.00" fill="#151515" style="font-weight:bold" stroke="#151515" stroke-width="0.10">f</text>
<text transform="matrix(1.0482 0 0 1.0000 291.04 325.70)" font-size="9.00" fill="#151515" style="font-weight:bold" stroke="#151515" stroke-width="0.10">o</text>
<text transform="matrix(0.9221 0 0 1.0000 295.93 325.70)" font-size="9.00" fill="#151515" style="font-weight:bold" stroke="#151515" stroke-width="0.10">l</text>
<path d="M303.6 316.4H312.4M303.6 318.9H312.4" stroke="#151515" stroke-width="1.00" fill="none"/>
<text transform="matrix(0.9208 0 0 1.0000 318.82 321.60)" font-size="14.50" fill="#151515" stroke="#151515" stroke-width="0.16">1</text>
<text transform="matrix(1.2524 0 0 1.0000 326.01 321.60)" font-size="14.50" fill="#151515" stroke="#151515" stroke-width="0.16">0</text>
<text transform="matrix(1.2524 0 0 1.0000 335.71 321.60)" font-size="14.50" fill="#151515" stroke="#151515" stroke-width="0.16">0</text>
<text transform="matrix(1.1345 0 0 1.0000 114.00 202.50)" font-size="14.50" fill="#151515" stroke="#151515" stroke-width="0.16">b</text>
<text transform="matrix(1.0920 0 0 1.0000 122.32 197.80)" font-size="9.20" fill="#151515" style="font-weight:bold" stroke="#151515" stroke-width="0.10">3</text>
<text transform="matrix(0.7151 0 0 1.0000 122.59 205.40)" font-size="9.20" fill="#151515" style="font-weight:bold" stroke="#151515" stroke-width="0.10">L</text>
<text transform="matrix(1.2274 0 0 1.0000 128.09 202.50)" font-size="14.50" fill="#151515" style="font-style:italic" stroke="#151515" stroke-width="0.16">P</text>
<text transform="matrix(1.0836 0 0 1.0000 140.66 197.40)" font-size="8.30" fill="#151515" style="font-weight:bold;font-style:italic" stroke="#151515" stroke-width="0.30">δ</text>
<text transform="matrix(1.1094 0 0 1.0000 145.85 197.40)" font-size="8.30" fill="#151515" style="font-weight:bold;font-style:italic" stroke="#151515" stroke-width="0.30">δ</text>
<text transform="matrix(1.0836 0 0 1.0000 151.16 197.40)" font-size="8.30" fill="#151515" style="font-weight:bold;font-style:italic" stroke="#151515" stroke-width="0.30">δ</text>
<text transform="matrix(1.1468 0 0 1.0757 112.31 222.00)" font-size="15.00" fill="#ff0000" style="font-style:italic" stroke="#ff0000" stroke-width="0.16">p</text>
<text transform="matrix(1.1471 0 0 1.0000 122.75 217.60)" font-size="8.40" fill="#ff0000" style="font-weight:bold;font-style:italic" stroke="#ff0000" stroke-width="0.30">δ</text>
<text transform="matrix(1.2236 0 0 1.0000 133.14 217.60)" font-size="8.40" fill="#ff0000" style="font-weight:bold;font-style:italic" stroke="#ff0000" stroke-width="0.30">δ</text>
<text transform="matrix(1.0735 0 0 1.0000 127.53 217.60)" font-size="9.20" fill="#ff0000" style="font-weight:bold;font-style:italic" stroke="#ff0000" stroke-width="0.30">u</text>
<text transform="matrix(1.2898 0 0 1.0000 147.21 222.00)" font-size="14.50" fill="#ff0000" stroke="#ff0000" stroke-width="0.22">t</text>
<text transform="matrix(1.2302 0 0 1.0000 152.70 222.00)" font-size="14.50" fill="#ff0000" stroke="#ff0000" stroke-width="0.22">e</text>
<text transform="matrix(1.5653 0 0 1.0000 160.95 222.00)" font-size="14.50" fill="#ff0000" stroke="#ff0000" stroke-width="0.22">r</text>
<text transform="matrix(1.2378 0 0 1.0000 169.32 222.00)" font-size="14.50" fill="#ff0000" stroke="#ff0000" stroke-width="0.22">m</text>
<text transform="matrix(1.1468 0 0 1.0757 112.31 241.50)" font-size="15.00" fill="#156f46" style="font-style:italic" stroke="#156f46" stroke-width="0.16">p</text>
<text transform="matrix(0.9728 0 0 1.0000 123.17 237.60)" font-size="9.20" fill="#156f46" style="font-weight:bold" stroke="#156f46" stroke-width="0.30">u</text>
<text transform="matrix(0.9728 0 0 1.0000 128.57 237.60)" font-size="9.20" fill="#156f46" style="font-weight:bold" stroke="#156f46" stroke-width="0.30">u</text>
<text transform="matrix(1.3001 0 0 1.1411 134.13 237.60)" font-size="8.40" fill="#156f46" style="font-weight:bold;font-style:italic" stroke="#156f46" stroke-width="0.30">δ</text>
<text transform="matrix(1.3425 0 0 1.0000 147.81 241.50)" font-size="14.50" fill="#156f46" stroke="#156f46" stroke-width="0.22">t</text>
<text transform="matrix(1.2488 0 0 1.0000 153.29 241.50)" font-size="14.50" fill="#156f46" stroke="#156f46" stroke-width="0.22">e</text>
<text transform="matrix(1.5200 0 0 1.0000 161.56 241.50)" font-size="14.50" fill="#156f46" stroke="#156f46" stroke-width="0.22">r</text>
<text transform="matrix(1.2471 0 0 1.0000 170.12 241.50)" font-size="14.50" fill="#156f46" stroke="#156f46" stroke-width="0.22">m</text>
<text transform="matrix(1.0656 0 0 1.0000 112.82 262.00)" font-size="14.50" fill="#0000ff" stroke="#0000ff" stroke-width="0.22">T</text>
<text transform="matrix(1.0898 0 0 1.0000 122.40 262.00)" font-size="14.50" fill="#0000ff" stroke="#0000ff" stroke-width="0.22">o</text>
<text transform="matrix(1.2372 0 0 1.0000 130.52 262.00)" font-size="14.50" fill="#0000ff" stroke="#0000ff" stroke-width="0.22">t</text>
<text transform="matrix(1.3968 0 0 1.0000 135.39 262.00)" font-size="14.50" fill="#0000ff" stroke="#0000ff" stroke-width="0.22">a</text>
<text transform="matrix(1.4778 0 0 1.0000 144.97 262.00)" font-size="14.50" fill="#0000ff" stroke="#0000ff" stroke-width="0.22">l</text>
<text transform="matrix(1.1754 0 0 1.0000 158.61 262.00)" font-size="14.50" fill="#0000ff" stroke="#0000ff" stroke-width="0.22">P</text>
<text transform="matrix(0.9209 0 0 1.0000 167.83 258.60)" font-size="9.60" fill="#0000ff" style="font-weight:bold" stroke="#0000ff" stroke-width="0.25">N</text>
<text transform="matrix(0.8767 0 0 1.0000 174.69 258.60)" font-size="9.60" fill="#0000ff" style="font-weight:bold" stroke="#0000ff" stroke-width="0.25">G</text>
</g>
</svg></body></html>
